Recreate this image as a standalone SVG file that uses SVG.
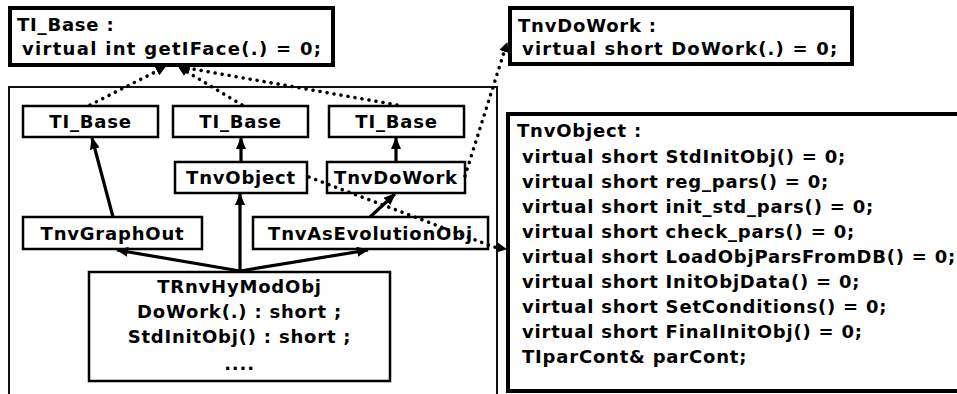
<svg xmlns="http://www.w3.org/2000/svg" width="957" height="394" viewBox="0 0 957 394">
  <defs>
    <style>
      text { font-family: "DejaVu Sans", Verdana, sans-serif; font-weight: bold; font-size: 18px; fill: #000; letter-spacing: 0.8px; }
      .mid { text-anchor: middle; }
      .box { fill: #fff; stroke: #000; stroke-width: 2.5; }
      .iface { fill: #fff; stroke: #000; stroke-width: 4; }
      .frame { fill: none; stroke: #111; stroke-width: 2; }
      .inh { fill: none; stroke: #000; stroke-width: 3.2; marker-end: url(#solid); }
      .impl { fill: none; stroke: #000; stroke-width: 3.5; stroke-linecap: round; stroke-dasharray: 0.1 7; marker-end: url(#dot); }
    </style>
    <marker id="solid" viewBox="0 0 12 10" refX="11" refY="5" markerWidth="12" markerHeight="10" markerUnits="userSpaceOnUse" orient="auto">
      <path d="M0,0 L12,5 L0,10 z" fill="#000"/>
    </marker>
    <marker id="dot" viewBox="0 0 10 10" refX="9" refY="5" markerWidth="10" markerHeight="10" markerUnits="userSpaceOnUse" orient="auto">
      <path d="M0,0 L10,5 L0,10 z" fill="#000"/>
    </marker>
  </defs>

  <rect width="957" height="394" fill="#fff"/>

  <!-- package frame around the concrete classes -->
  <rect class="frame" x="9" y="87" width="488" height="320"/>

  <!-- interface boxes -->
  <g id="ti-base-iface">
    <rect class="iface" x="10" y="8" width="323" height="57"/>
    <text x="17" y="31">TI_Base :</text>
    <text x="22" y="55" style="letter-spacing:1.3px">virtual int getIFace(.) = 0;</text>
  </g>
  <g id="tnvdowork-iface">
    <rect class="iface" x="510" y="8" width="342" height="56"/>
    <text x="518" y="32">TnvDoWork :</text>
    <text x="522" y="55" style="letter-spacing:1.2px">virtual short DoWork(.) = 0;</text>
  </g>
  <g id="tnvobject-iface">
    <rect class="iface" x="508" y="114" width="460" height="277"/>
    <text x="517" y="137">TnvObject :</text>
    <text x="522" y="162.5">virtual short StdInitObj() = 0;</text>
    <text x="522" y="187.5">virtual short reg_pars() = 0;</text>
    <text x="522" y="212.5">virtual short init_std_pars() = 0;</text>
    <text x="522" y="238">virtual short check_pars() = 0;</text>
    <text x="522" y="263">virtual short LoadObjParsFromDB() = 0;</text>
    <text x="522" y="288">virtual short InitObjData() = 0;</text>
    <text x="522" y="313">virtual short SetConditions() = 0;</text>
    <text x="522" y="338">virtual short FinalInitObj() = 0;</text>
    <text x="522" y="363">TIparCont&amp; parCont;</text>
  </g>

  <!-- class boxes -->
  <g id="ti-base-1">
    <rect class="box" x="23" y="106" width="135" height="31"/>
    <text class="mid" x="90.5" y="127.5">TI_Base</text>
  </g>
  <g id="ti-base-2">
    <rect class="box" x="173" y="106" width="135" height="31"/>
    <text class="mid" x="240.5" y="127.5">TI_Base</text>
  </g>
  <g id="ti-base-3">
    <rect class="box" x="329" y="106" width="135" height="31"/>
    <text class="mid" x="396.5" y="127.5">TI_Base</text>
  </g>
  <g id="tnvobject">
    <rect class="box" x="175" y="162" width="132" height="31"/>
    <text class="mid" x="241" y="184">TnvObject</text>
  </g>
  <g id="tnvdowork">
    <rect class="box" x="327" y="162" width="138" height="31"/>
    <text class="mid" x="396" y="184">TnvDoWork</text>
  </g>
  <g id="tnvgraphout">
    <rect class="box" x="23" y="217" width="179" height="32"/>
    <text class="mid" x="112.5" y="239.5">TnvGraphOut</text>
  </g>
  <g id="tnvasevolutionobj">
    <rect class="box" x="253" y="217" width="235" height="32"/>
    <text class="mid" x="370.5" y="239.5">TnvAsEvolutionObj</text>
  </g>
  <g id="trnvhymodobj">
    <rect class="box" x="89" y="272" width="301" height="109"/>
    <text class="mid" x="239.5" y="293">TRnvHyModObj</text>
    <text class="mid" x="239.5" y="318">DoWork(.) : short ;</text>
    <text class="mid" x="239.5" y="343">StdInitObj() : short ;</text>
    <text class="mid" x="239.5" y="370">....</text>
  </g>

  <!-- connectors -->
  <g id="connectors">
    <line class="inh" x1="113" y1="217" x2="92" y2="138"/>
    <line class="inh" x1="241" y1="162" x2="241" y2="138"/>
    <line class="inh" x1="396" y1="162" x2="396" y2="138"/>
    <line class="inh" x1="240" y1="272" x2="240" y2="194"/>
    <line class="inh" x1="240" y1="271" x2="117" y2="250"/>
    <line class="inh" x1="240" y1="271" x2="368" y2="250"/>
    <line class="inh" x1="370" y1="217" x2="395" y2="194"/>

    <line class="impl" x1="90" y1="105" x2="165" y2="67"/>
    <line class="impl" x1="242" y1="105" x2="179" y2="67"/>
    <line class="impl" x1="397" y1="105" x2="181" y2="67"/>
    <polyline class="impl" points="465,176 505,49 507,43"/>
    <polyline class="impl" points="309,177 494,247 506,249"/>
  </g>
</svg>
